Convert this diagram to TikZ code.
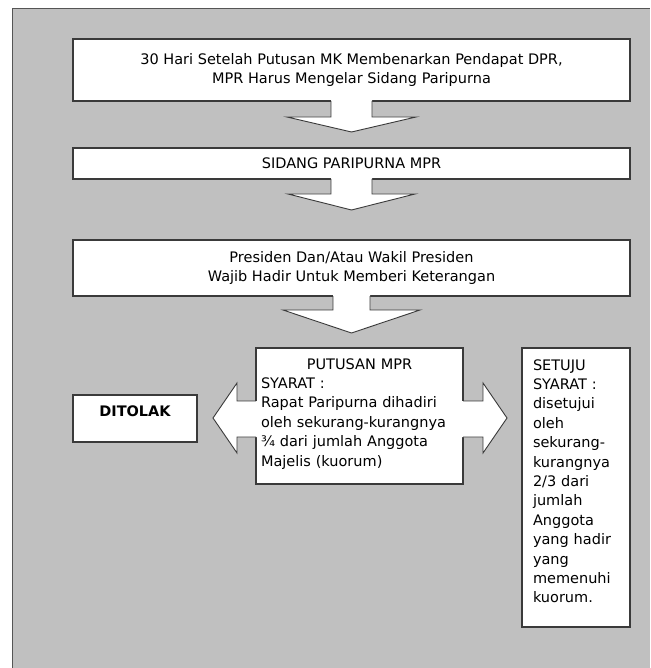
\documentclass[tikz,border=0pt]{standalone}
\usepackage{fontspec}
\setmainfont{DejaVu Sans}
\usetikzlibrary{calc}
\definecolor{bggray}{HTML}{C0C0C0}
\definecolor{edgegray}{HTML}{3A3A3A}
\definecolor{framegray}{HTML}{555555}
\newcommand{\diagfont}{\fontsize{14.5}{19.4}\selectfont}
% block arrow hanging below a node: node, stem half-width, stem length, head half-width, tip length
\newcommand{\blockdown}[5]{%
  \fill[white] ($(#1.south)+(-#2,-1)$) -- ($(#1.south)+(-#2,#3)$) -- ($(#1.south)+(-#4,#3)$)
    -- ($(#1.south)+(0,#5)$) -- ($(#1.south)+(#4,#3)$) -- ($(#1.south)+(#2,#3)$)
    -- ($(#1.south)+(#2,-1)$) -- cycle;
  \draw[arrline] ($(#1.south)+(-#2,0)$) -- ($(#1.south)+(-#2,#3)$) -- ($(#1.south)+(-#4,#3)$)
    -- ($(#1.south)+(0,#5)$) -- ($(#1.south)+(#4,#3)$) -- ($(#1.south)+(#2,#3)$)
    -- ($(#1.south)+(#2,0)$);
}
\begin{document}
\begin{tikzpicture}[x=1pt,y=-1pt,
  box/.style={draw=edgegray, line width=1.3pt, fill=white, inner sep=0pt, outer sep=0pt,
              font=\diagfont, text=black},
  arrline/.style={draw=edgegray, line width=0.9pt, line join=miter}]
\useasboundingbox (0,0) rectangle (650,668);
% background panel
\fill[bggray] (12,9) rectangle (650,668);
\draw[framegray, line width=1pt] (12,668) -- (12,9) -- (650,9);

% boxes
\node[box, minimum width=557pt, minimum height=62pt, align=center] (b1) at (351.5,70)
  {30 Hari Setelah Putusan MK Membenarkan Pendapat DPR,\\MPR Harus Mengelar Sidang Paripurna};
\node[box, minimum width=557pt, minimum height=31pt] (b2) at (351.5,163.5)
  {SIDANG PARIPURNA MPR};
\node[box, minimum width=557pt, minimum height=56pt, align=center] (b3) at (351.5,268)
  {Presiden Dan/Atau Wakil Presiden\\Wajib Hadir Untuk Memberi Keterangan};
\node[box, minimum width=207pt, minimum height=136pt, text width=197pt, inner xsep=5pt,
      align=left] (put) at (359.5,416)
  {\rule{0pt}{21pt}\makebox[197pt][c]{PUTUSAN MPR}\\SYARAT :\\Rapat Paripurna dihadiri\\oleh sekurang-kurangnya\\¾ dari jumlah Anggota\\Majelis (kuorum)\rule[-18pt]{0pt}{18pt}};
\node[box, minimum width=124pt, minimum height=47pt, font=\diagfont\bfseries,
      text depth=14pt] (dit) at (135,418.5) {DITOLAK};
\node[box, minimum width=108pt, minimum height=279pt, text width=86pt, inner xsep=11pt,
      align=left] (set) at (576,487.5)
  {\rule{0pt}{22pt}SETUJU\\SYARAT :\\disetujui\\oleh\\sekurang-\\kurangnya\\2/3 dari\\jumlah\\Anggota\\yang hadir\\yang\\memenuhi\\kuorum.\rule[-24.2pt]{0pt}{24.2pt}};

% down block arrows
\blockdown{b1}{20.5}{16}{64.5}{31}
\blockdown{b2}{20.5}{15}{63.5}{31}
\blockdown{b3}{18.5}{14}{68.5}{37}

% double block arrow through the decision box
\fill[white] ($(put.west)+(1,-15)$) -- ($(put.west)+(-19,-15)$) -- ($(put.west)+(-19,-33)$)
  -- ($(put.west)+(-43,2)$) -- ($(put.west)+(-19,37)$) -- ($(put.west)+(-19,21)$)
  -- ($(put.west)+(1,21)$) -- cycle;
\draw[arrline] ($(put.west)+(0,-15)$) -- ($(put.west)+(-19,-15)$) -- ($(put.west)+(-19,-33)$)
  -- ($(put.west)+(-43,2)$) -- ($(put.west)+(-19,37)$) -- ($(put.west)+(-19,21)$)
  -- ($(put.west)+(0,21)$);
\fill[white] ($(put.east)+(-1,-15)$) -- ($(put.east)+(20,-15)$) -- ($(put.east)+(20,-33)$)
  -- ($(put.east)+(44,2)$) -- ($(put.east)+(20,37)$) -- ($(put.east)+(20,21)$)
  -- ($(put.east)+(-1,21)$) -- cycle;
\draw[arrline] ($(put.east)+(0,-15)$) -- ($(put.east)+(20,-15)$) -- ($(put.east)+(20,-33)$)
  -- ($(put.east)+(44,2)$) -- ($(put.east)+(20,37)$) -- ($(put.east)+(20,21)$)
  -- ($(put.east)+(0,21)$);
\end{tikzpicture}
\end{document}
